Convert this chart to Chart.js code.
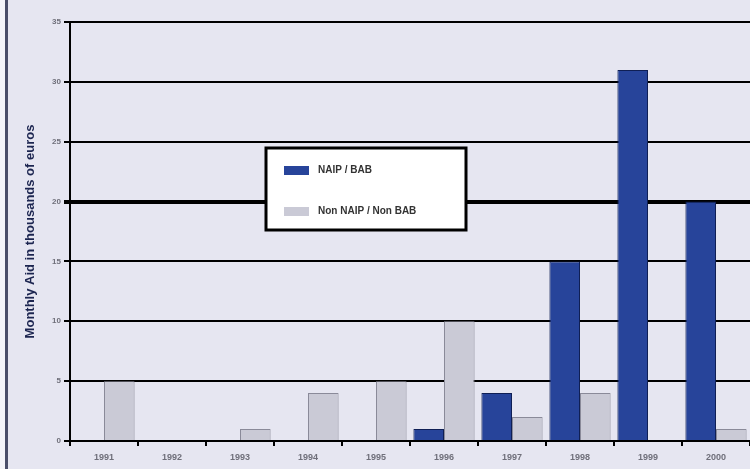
<!DOCTYPE html>
<html>
<head>
<meta charset="utf-8">
<script src="https://cdn.jsdelivr.net/npm/chart.js@4/dist/chart.umd.min.js"></script>
<style>
  html, body { margin: 0; padding: 0; background: #fff; }
  #wrap { width: 750px; height: 469px; }
</style>
</head>
<body>
<div id="wrap"><canvas id="grafico" width="750" height="469"></canvas></div>
<script>
const years = ['1991', '1992', '1993', '1994', '1995', '1996', '1997', '1998', '1999', '2000'];
const naipBab = [0, 0, 0, 0, 0, 1, 4, 15, 31, 20];
const nonNaipBab = [5, 0, 1, 4, 5, 10, 2, 4, 0, 1];
const yTicks = [0, 5, 10, 15, 20, 25, 30, 35];
const seriesNames = ['NAIP / BAB', 'Non NAIP / Non BAB'];
const yTitle = 'Monthly Aid in thousands of euros';

// fond lavande + bordure gauche
const fundo = {
    id: 'fundo',
    beforeDraw(chart) {
        const ctx = chart.ctx;
        ctx.save();
        ctx.fillStyle = '#e6e6f1';
        ctx.fillRect(0, 0, chart.width, chart.height);
        ctx.fillStyle = '#f4f4fa';
        ctx.fillRect(0, 0, 5, chart.height);
        ctx.fillStyle = '#4a4e6a';
        ctx.fillRect(5, 0, 3, chart.height);
        ctx.restore();
    }
};

// légende dans une boîte blanche
const legenda = {
    id: 'legenda',
    afterDraw(chart) {
        const ctx = chart.ctx;
        ctx.save();
        ctx.fillStyle = '#ffffff';
        ctx.fillRect(266, 148, 200, 82);
        ctx.strokeStyle = '#000';
        ctx.lineWidth = 3;
        ctx.strokeRect(266, 148, 200, 82);
        ctx.font = 'bold 10px "Liberation Sans", Arial, sans-serif';
        ctx.textBaseline = 'middle';
        chart.data.datasets.forEach(function (ds, i) {
            const y = i === 0 ? 170 : 211;
            ctx.fillStyle = ds.backgroundColor;
            ctx.fillRect(284, y - 4, 25, 9);
            ctx.fillStyle = '#333';
            ctx.fillText(ds.label, 318, y);
        });
        ctx.restore();
    }
};

new Chart(document.getElementById('grafico').getContext('2d'), {
    type: 'bar',
    data: {
        labels: years,
        datasets: [{
            label: seriesNames[0],
            data: naipBab,
            backgroundColor: '#27449a',
            borderColor: '#0f1f55',
            borderWidth: 1
        }, {
            label: seriesNames[1],
            data: nonNaipBab,
            backgroundColor: '#cacad6',
            borderColor: '#8a8a99',
            borderWidth: 1
        }]
    },
    plugins: [fundo, legenda],
    options: {
        responsive: false,
        animation: false,
        layout: { padding: { top: 22, right: 0, left: 23, bottom: 0 } },
        plugins: {
            legend: { display: false },
            tooltip: { enabled: false }
        },
        datasets: {
            bar: { categoryPercentage: 0.9, barPercentage: 1.0 }
        },
        scales: {
            x: {
                grid: {
                    display: true,
                    drawOnChartArea: false,
                    color: '#000',
                    lineWidth: 2,
                    tickLength: 5,
                    offset: true
                },
                border: { color: '#000', width: 2 },
                ticks: {
                    color: '#6f6f7a',
                    font: { family: 'Liberation Sans', size: 9, weight: 'bold' },
                    padding: 6
                },
                afterFit(scale) { scale.height = 28; }
            },
            y: {
                min: 0,
                max: 35,
                afterBuildTicks(scale) {
                    scale.ticks = yTicks.map(v => ({ value: v }));
                },
                grid: {
                    color: '#000',
                    lineWidth: ctx => (ctx.tick && ctx.tick.value === 20 ? 4 : 2),
                    tickLength: 6
                },
                border: { color: '#000', width: 2 },
                ticks: {
                    color: '#6f6f7a',
                    font: { family: 'Liberation Sans', size: 8, weight: 'bold' },
                    padding: 3
                },
                title: {
                    display: true,
                    text: yTitle,
                    color: '#1c2550',
                    font: { family: 'Liberation Sans', size: 13, weight: 'bold' },
                    padding: { top: 0, bottom: 0 }
                },
                afterFit(scale) { scale.width = 47; }
            }
        }
    }
});
</script>
</body>
</html>
